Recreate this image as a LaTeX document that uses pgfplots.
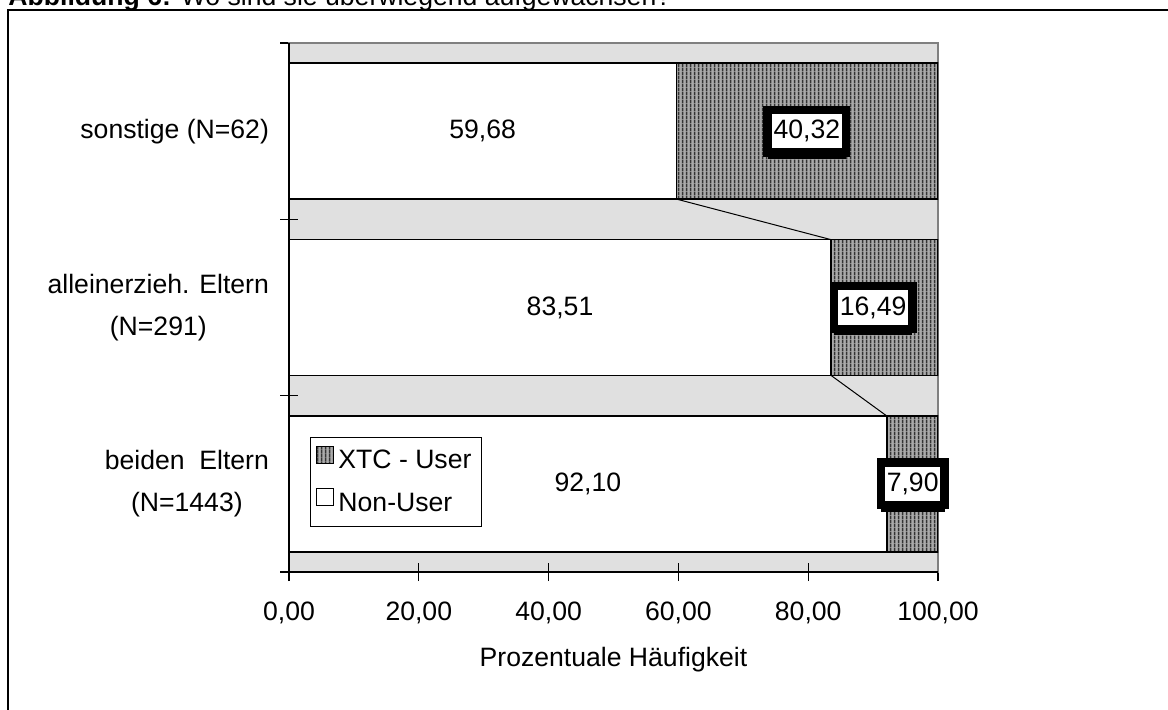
\documentclass[border=0pt]{standalone}
\usepackage{pgfplots}
\pgfplotsset{compat=1.18}
\usepackage{pgfplotstable}
\usepackage{fontspec}
\setmainfont{Liberation Sans}
\usetikzlibrary{patterns,patterns.meta,shadows}

\definecolor{bggray}{RGB}{224,224,224}
\definecolor{framegray}{RGB}{128,128,128}
\definecolor{xtcfill}{RGB}{170,170,170}

% fine vertical hatching like the Excel fill
\tikzdeclarepattern{
  name=finevlines,
  type=uncolored,
  bottom left={(0pt,0pt)},
  top right={(1.8pt,1.8pt)},
  tile size={(1.8pt,1.8pt)},
  code={
    \pgfsetlinewidth{0.75pt}
    \pgfpathmoveto{\pgfqpoint{0.9pt}{-0.1pt}}
    \pgfpathlineto{\pgfqpoint{0.9pt}{1.9pt}}
    \pgfusepath{stroke}
  }
}

\newcommand\cf{\fontsize{13.3}{16}\selectfont}

\pgfplotstableread{
y nonuser xtc
0 92.10 7.90
1 83.51 16.49
2 59.68 40.32
}\datatab

\tikzset{xtcbox/.style={fill=white, draw=black, line width=4.2pt,
  inner xsep=3pt, inner ysep=5.2pt, font=\cf,
  general shadow={fill=black, shadow yshift=-3.2pt}}}

\begin{document}
\begin{tikzpicture}
\useasboundingbox (0,0) rectangle (584pt,354.5pt);
\clip (0,0) rectangle (584pt,354.5pt);

% title (cut at the top as in the source)
\node[anchor=base west, inner sep=0pt, font=\cf] at (4pt,352pt)
  {\textbf{Abbildung 6:} Wo sind sie überwiegend aufgewachsen?};
% outer frame
\draw[black, line width=0.8pt] (4pt,-2pt) -- (4pt,349.5pt) -- (600pt,349.5pt);

\begin{axis}[
    at={(144.5pt,68.5pt)}, anchor=south west,
    scale only axis, width=324.5pt, height=264.5pt,
    xbar stacked, bar width=0.77,
    xmin=0, xmax=100, ymin=-0.5, ymax=2.5,
    xtick={0,20,...,100},
    ytick={0,1,2},
    yticklabels={{beiden\ \ Eltern\\(N=1443)},{alleinerzieh. Eltern\\(N=291)},{sonstige (N=62)}},
    minor ytick={-0.5,0.5,1.5,2.5},
    xtick pos=lower, ytick pos=left,
    tick align=center,
    major tick length=9pt, minor tick length=9pt,
    major y tick style={draw=none},
    tick style={black, line width=0.6pt},
    axis line style={framegray, line width=0.8pt},
    axis background/.style={fill=bggray},
    /pgf/number format/.cd, fixed, fixed zerofill, precision=2, use comma, assume math mode=true,
    /pgfplots/.cd,
    tick label style={font=\cf},
    xticklabel style={anchor=base, yshift=-19.5pt},
    yticklabel style={align=center, font=\fontsize{13.3}{21}\selectfont, xshift=-2pt},
    xlabel={Prozentuale Häufigkeit},
    xlabel style={font=\cf, at={(axis description cs:0.5,0)}, anchor=base, yshift=-47pt},
    reverse legend,
    legend cell align=left,
    legend image code/.code={\draw[#1, line width=0.6pt] (0pt,-1pt) rectangle (8.5pt,7.5pt);},
    legend style={at={(rel axis cs:0.032,0.255)}, anchor=north west,
      draw=black, line width=0.5pt, fill=white, font=\cf,
      inner xsep=3pt, inner ysep=4pt, row sep=6pt},
  ]
  \addplot[draw=black, line width=0.8pt, fill=white]
    table[x=nonuser, y=y] {\datatab};
  \addlegendentry{Non-User}
  \addplot[draw=black, line width=0.8pt, fill=xtcfill,
    postaction={pattern=finevlines, pattern color=black!80}]
    table[x=xtc, y=y] {\datatab};
  \addlegendentry{XTC - User}
\end{axis}

% overlay: series lines, axis lines and value labels
\begin{axis}[
    at={(144.5pt,68.5pt)}, anchor=south west,
    scale only axis, width=324.5pt, height=264.5pt,
    xmin=0, xmax=100, ymin=-0.5, ymax=2.5,
    hide axis, clip=false,
  ]
  \addplot[black, line width=0.5pt, mark=none] coordinates {(92.10,0.385) (83.51,0.615)};
  \addplot[black, line width=0.5pt, mark=none] coordinates {(83.51,1.385) (59.68,1.615)};

  \draw[black, line width=1pt] (rel axis cs:0,1) -- (rel axis cs:0,0) -- (rel axis cs:1,0);

  \node[font=\cf] at (axis cs:46.05,0) {92,10};
  \node[font=\cf] at (axis cs:41.76,1) {83,51};
  \node[font=\cf] at (axis cs:29.84,2) {59,68};
  \node[xtcbox] at (axis cs:96.1,0) {7,90};
  \node[xtcbox] at (axis cs:90.0,1) {16,49};
  \node[xtcbox] at (axis cs:79.8,2) {40,32};
\end{axis}
\end{tikzpicture}
\end{document}
